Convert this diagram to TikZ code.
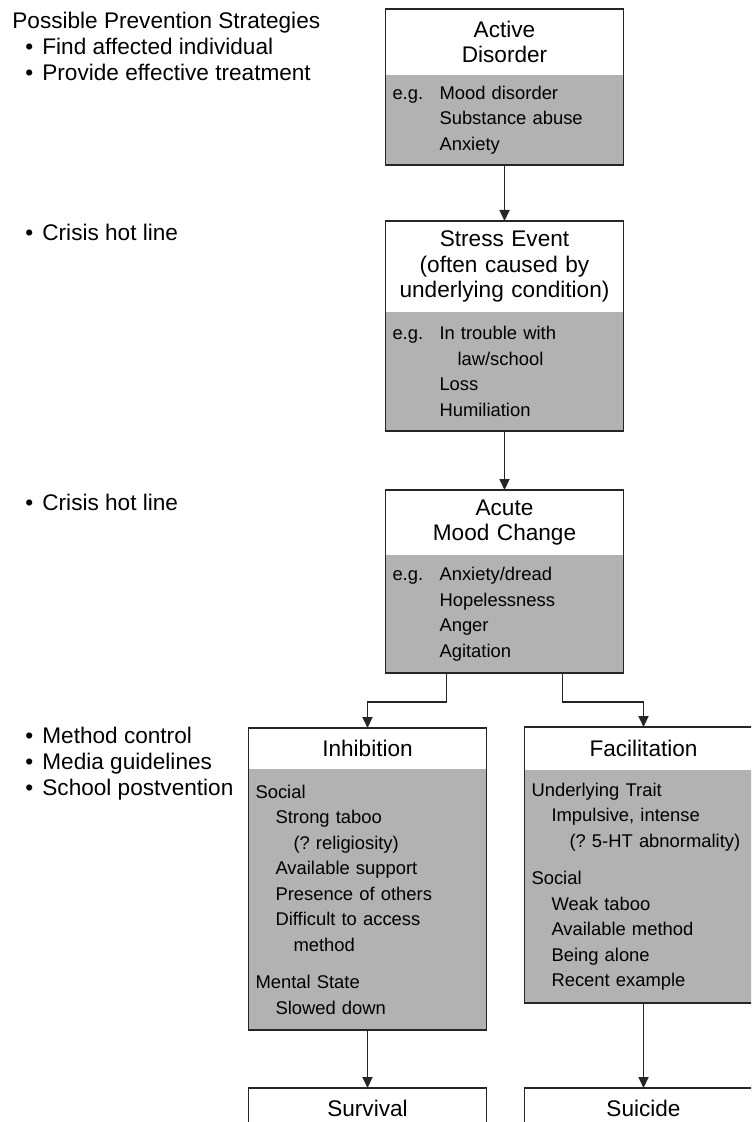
\documentclass[tikz,border=0pt]{standalone}
\usepackage{fontspec}
\setmainfont{Liberation Sans}
\usetikzlibrary{arrows.meta,positioning}

\definecolor{bodygray}{gray}{0.7}
\newcommand{\titlefont}{\fontsize{11.3}{12.75}\selectfont}
\newcommand{\itemfont}{\fontsize{9.2}{12.75}\selectfont}
\newcommand{\stratfont}{\fontsize{11.3}{13}\selectfont}
\newcommand{\eg}{\makebox[23.5pt][l]{e.g.}}
\newcommand{\egskip}{\hspace*{23.5pt}}
\newcommand{\lvone}{\hspace*{10pt}}
\newcommand{\lvtwo}{\hspace*{19pt}}
\newcommand{\prevbullet}{\makebox[8.5pt][l]{\textbullet}}

\tikzset{
  boxhead/.style={text width=112pt, inner xsep=3.5pt, inner ysep=0pt, outer sep=0pt, align=center, font=\titlefont},
  boxbody/.style={boxhead, align=left, font=\itemfont, fill=bodygray},
  boxline/.style={draw=black!85, line width=0.9pt},
  flow/.style={draw=black!85, line width=0.9pt, -{Triangle[length=5.5pt,width=5pt]}},
  strategy/.style={anchor=west, align=left, inner sep=0pt, font=\stratfont}
}

\begin{document}
\begin{tikzpicture}[x=0.5pt,y=-0.5pt]
  \clip (0,0) rectangle (751,1122);

  % prevention strategies
  \node[strategy] (strat-find) at (12,46) {Possible Prevention Strategies\\
    \hspace*{6.5pt}\prevbullet Find affected individual\\
    \hspace*{6.5pt}\prevbullet Provide effective treatment};
  \node[strategy] (strat-hot1) at (25,232) {\prevbullet Crisis hot line};
  \node[strategy] (strat-hot2) at (25,502) {\prevbullet Crisis hot line};
  \node[strategy] (strat-method) at (25,764) {\prevbullet Method control\\
    \prevbullet Media guidelines\\
    \prevbullet School postvention};

  % chain of boxes
  \node[boxhead, anchor=north, minimum height=33pt] (act-head) at (504.5,9) {Active\\Disorder};
  \node[boxbody, below=0pt of act-head, minimum height=45pt] (act-body) {\eg Mood disorder\\
    \egskip Substance abuse\\
    \egskip Anxiety};
  \draw[boxline] (act-head.north west) rectangle (act-body.south east);

  \node[boxhead, anchor=north, minimum height=45.5pt] (stress-head) at (504.5,221) {Stress Event\\(often caused by\\underlying condition)};
  \node[boxbody, below=0pt of stress-head, minimum height=59.5pt] (stress-body) {\eg In trouble with\\
    \hspace*{32.5pt}law/school\\
    \egskip Loss\\
    \egskip Humiliation};
  \draw[boxline] (stress-head.north west) rectangle (stress-body.south east);

  \node[boxhead, anchor=north, minimum height=32.5pt] (mood-head) at (504.5,490) {Acute\\Mood Change};
  \node[boxbody, below=0pt of mood-head, minimum height=59pt] (mood-body) {\eg Anxiety/dread\\
    \egskip Hopelessness\\
    \egskip Anger\\
    \egskip Agitation};
  \draw[boxline] (mood-head.north west) rectangle (mood-body.south east);

  \node[boxhead, anchor=north, minimum height=20.5pt] (inhib-head) at (367.5,728) {Inhibition};
  \node[boxbody, below=0pt of inhib-head, minimum height=130.5pt] (inhib-body) {Social\\
    \lvone Strong taboo\\
    \lvtwo (?\ religiosity)\\
    \lvone Available support\\
    \lvone Presence of others\\
    \lvone Difficult to access\\
    \lvtwo method\\[6pt]
    Mental State\\
    \lvone Slowed down};
  \draw[boxline] (inhib-head.north west) rectangle (inhib-body.south east);

  \node[boxhead, anchor=north, minimum height=21.5pt] (facil-head) at (643.5,727) {Facilitation};
  \node[boxbody, below=0pt of facil-head, minimum height=116.5pt] (facil-body) {Underlying Trait\\
    \lvone Impulsive, intense\\
    \lvtwo (?\ 5-HT abnormality)\\[6pt]
    Social\\
    \lvone Weak taboo\\
    \lvone Available method\\
    \lvone Being alone\\
    \lvone Recent example};
  \draw[boxline] (facil-head.north west) rectangle (facil-body.south east);

  \node[boxhead, boxline, anchor=north, minimum height=20pt] (surv) at (367.5,1088) {Survival};
  \node[boxhead, boxline, anchor=north, minimum height=20pt] (suic) at (643.5,1088) {Suicide};

  % connectors
  \draw[flow] (act-body.south) -- (stress-head.north);
  \draw[flow] (stress-body.south) -- (mood-head.north);
  \draw[flow] ([xshift=-29pt]mood-body.south) -- ++(0,29) -| (inhib-head.north);
  \draw[flow] ([xshift=29pt]mood-body.south) -- ++(0,29) -| (facil-head.north);
  \draw[flow] (inhib-body.south) -- (surv.north);
  \draw[flow] (facil-body.south) -- (suic.north);
\end{tikzpicture}
\end{document}
